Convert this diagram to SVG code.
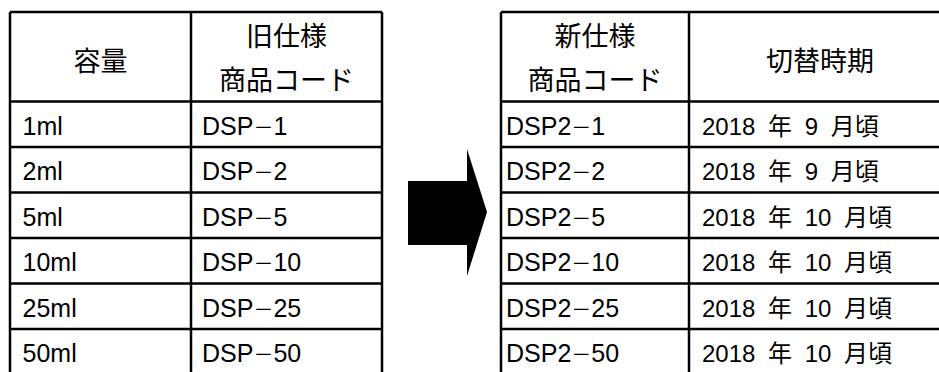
<svg xmlns="http://www.w3.org/2000/svg" width="939" height="372" viewBox="0 0 939 372">
<style>
.ln{stroke:#000;stroke-width:2.5;fill:none}
.hd{font-family:"Liberation Sans","Noto Sans CJK JP",sans-serif;font-size:27px;fill:#000;text-anchor:middle}
.td{font-family:"Liberation Sans","Noto Sans CJK JP",sans-serif;font-size:25px;fill:#000}
.dt{font-size:24px;word-spacing:6px}
.fw{font-family:"Noto Sans CJK JP",sans-serif;font-size:20px}
</style>
<rect width="939" height="372" fill="#fff"/>
<g id="old-table">
<path class="ln" d="M10 12H382M10 101.5H382M10 147H382M10 192.5H382M10 238H382M10 283.5H382M10 329H382M10 12V372M191 12V372M382 12V372"/>
<text class="hd" x="100.5" y="70.5">容量</text>
<text class="hd" x="286.5" y="46.3">旧仕様</text>
<text class="hd" x="286.5" y="90.3">商品コード</text>
<text class="td" x="22.5" y="134.5">1ml</text>
<text class="td" x="202" y="134.5">DSP<tspan class="fw">－</tspan>1</text>
<text class="td" x="22.5" y="180">2ml</text>
<text class="td" x="202" y="180">DSP<tspan class="fw">－</tspan>2</text>
<text class="td" x="22.5" y="225.5">5ml</text>
<text class="td" x="202" y="225.5">DSP<tspan class="fw">－</tspan>5</text>
<text class="td" x="22.5" y="271">10ml</text>
<text class="td" x="202" y="271">DSP<tspan class="fw">－</tspan>10</text>
<text class="td" x="22.5" y="316.5">25ml</text>
<text class="td" x="202" y="316.5">DSP<tspan class="fw">－</tspan>25</text>
<text class="td" x="22.5" y="362">50ml</text>
<text class="td" x="202" y="362">DSP<tspan class="fw">－</tspan>50</text>
</g>
<g id="new-table">
<path class="ln" d="M501 12H939M501 101.5H939M501 147H939M501 192.5H939M501 238H939M501 283.5H939M501 329H939M501 12V372M689 12V372"/>
<text class="hd" x="595" y="46.3">新仕様</text>
<text class="hd" x="595" y="90.3">商品コード</text>
<text class="hd" x="820" y="71">切替時期</text>
<text class="td" x="506" y="134.5">DSP2<tspan class="fw">－</tspan>1</text>
<text class="td dt" x="702" y="134.5">2018 年 9 月頃</text>
<text class="td" x="506" y="180">DSP2<tspan class="fw">－</tspan>2</text>
<text class="td dt" x="702" y="180">2018 年 9 月頃</text>
<text class="td" x="506" y="225.5">DSP2<tspan class="fw">－</tspan>5</text>
<text class="td dt" x="702" y="225.5">2018 年 10 月頃</text>
<text class="td" x="506" y="271">DSP2<tspan class="fw">－</tspan>10</text>
<text class="td dt" x="702" y="271">2018 年 10 月頃</text>
<text class="td" x="506" y="316.5">DSP2<tspan class="fw">－</tspan>25</text>
<text class="td dt" x="702" y="316.5">2018 年 10 月頃</text>
<text class="td" x="506" y="362">DSP2<tspan class="fw">－</tspan>50</text>
<text class="td dt" x="702" y="362">2018 年 10 月頃</text>
</g>
<g id="connectors">
<polygon id="arrow" points="408,181 467,181 467,149 487,212 467,276 467,245 408,245" fill="#000"/>
</g>
</svg>
